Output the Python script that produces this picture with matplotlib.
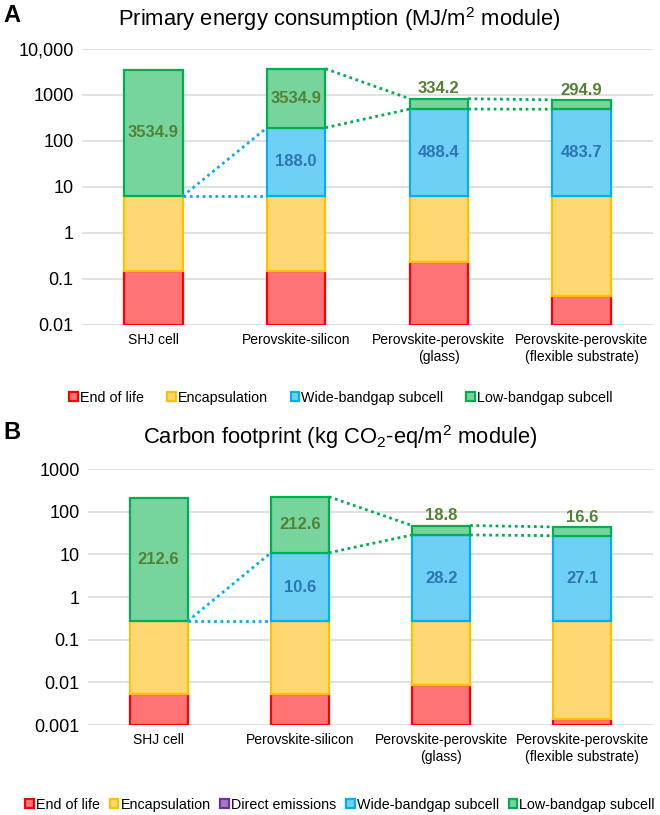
import numpy as np
import matplotlib
matplotlib.use("Agg")
import matplotlib.pyplot as plt
from matplotlib.patches import Patch

plt.rcParams['font.family'] = ['Liberation Sans', 'DejaVu Sans']
plt.rcParams['mathtext.fontset'] = 'custom'
plt.rcParams['mathtext.rm'] = 'Liberation Sans'
plt.rcParams['mathtext.it'] = 'Liberation Sans:italic'
plt.rcParams['mathtext.bf'] = 'Liberation Sans:bold'

# ---------------- data ----------------
categories = ['SHJ cell', 'Perovskite-silicon', 'Perovskite-perovskite\n(glass)',
              'Perovskite-perovskite\n(flexible substrate)']

# Panel A: primary energy consumption (MJ/m2 module)
energy_eol = [0.15, 0.15, 0.24, 0.042]
energy_encap = [6.15, 6.15, 6.06, 6.26]
energy_wide = [0.0, 188.0, 488.4, 483.7]
energy_low = [3534.9, 3534.9, 334.2, 294.9]
energy_ticks = [0.01, 0.1, 1, 10, 100, 1000, 10000]
energy_ticklabels = ['0.01', '0.1', '1', '10', '100', '1000', '10,000']

# Panel B: carbon footprint (kg CO2-eq/m2 module)
carbon_eol = [0.0054, 0.0054, 0.0085, 0.0014]
carbon_encap = [0.265, 0.265, 0.262, 0.269]
carbon_direct = [0.0, 0.0, 0.0, 0.0]
carbon_wide = [0.0, 10.6, 28.2, 27.1]
carbon_low = [212.6, 212.6, 18.8, 16.6]
carbon_ticks = [0.001, 0.01, 0.1, 1, 10, 100, 1000]
carbon_ticklabels = ['0.001', '0.01', '0.1', '1', '10', '100', '1000']

# ---------------- styles ----------------
STY = {
    'End of life': ('#FF7575', '#FF0000'),
    'Encapsulation': ('#FDD870', '#FFC000'),
    'Direct emissions': ('#A57BC8', '#7030A0'),
    'Wide-bandgap subcell': ('#6FD0F6', '#00B0F0'),
    'Low-bandgap subcell': ('#77D49C', '#00B050'),
}
GREEN_TXT = '#548235'
BLUE_TXT = '#2E75B6'
W = 0.41

fig = plt.figure(figsize=(6.6, 8.15), dpi=100)


def panel(rect, series, ticks, ticklabels, title, letter, title_y, letter_y,
          legend_names, legend_y, legend_colsp):
    ax = fig.add_axes(rect)
    ax.set_yscale('log')
    ymin, ymax = ticks[0], ticks[-1]
    ax.set_ylim(ymin, ymax)
    ax.set_xlim(-0.5, len(categories) - 0.5)
    x = np.arange(len(categories))
    cum = np.zeros(len(categories))
    tops = {}
    bots = {}
    for name, vals in series:
        vals = np.asarray(vals, dtype=float)
        face, edge = STY[name]
        bottom = np.where(cum == 0, ymin, cum)
        top = cum + vals
        for i in range(len(x)):
            if vals[i] <= 0:
                continue
            ax.bar(x[i], top[i] - bottom[i], bottom=bottom[i], width=W,
                   color=face, edgecolor=edge, linewidth=1.6, zorder=3)
        bots[name] = cum.copy()
        tops[name] = top.copy()
        cum = top
    ax.set_yticks(ticks)
    ax.set_yticklabels(ticklabels, fontsize=13)
    ax.yaxis.set_minor_locator(matplotlib.ticker.NullLocator())
    ax.set_xticks(x)
    ax.set_xticklabels(categories, fontsize=10, linespacing=1.25)
    ax.tick_params(length=0, pad=6)
    ax.grid(axis='y', color='#D9D9D9', linewidth=1.1, zorder=0)
    for s in ax.spines.values():
        s.set_visible(False)

    # value labels
    for name, col in (('Wide-bandgap subcell', BLUE_TXT), ('Low-bandgap subcell', GREEN_TXT)):
        vals = dict(series)[name]
        for i in range(len(x)):
            if vals[i] <= 0:
                continue
            b, t = bots[name][i], tops[name][i]
            if np.log10(t / b) > 0.5:
                ax.text(x[i], np.sqrt(b * t), f'{vals[i]:.1f}', ha='center', va='center',
                        fontsize=12, fontweight='bold', color=col, zorder=5)
            else:
                ax.text(x[i], t * 1.12, f'{vals[i]:.1f}', ha='center', va='bottom',
                        fontsize=12, fontweight='bold', color=col, zorder=5)

    # dotted connectors
    ls = (0, (1, 1.3))
    wb_bot = bots['Wide-bandgap subcell']
    wb_top = tops['Wide-bandgap subcell']
    lb_top = tops['Low-bandgap subcell']
    ax.plot([x[0] + W / 2, x[1] - W / 2], [wb_bot[0], wb_bot[1]], color='#00B0F0', lw=2, ls=ls, zorder=4)
    ax.plot([x[0] + W / 2, x[1] - W / 2], [wb_bot[0], wb_top[1]], color='#00B0F0', lw=2, ls=ls, zorder=4)
    for i in (1, 2):
        ax.plot([x[i] + W / 2, x[i + 1] - W / 2], [lb_top[i], lb_top[i + 1]], color='#00B050', lw=2, ls=ls, zorder=4)
        ax.plot([x[i] + W / 2, x[i + 1] - W / 2], [wb_top[i], wb_top[i + 1]], color='#00B050', lw=2, ls=ls, zorder=4)

    fig.text(0.515, title_y, title, ha='center', va='center', fontsize=15.8)
    fig.text(0.005, letter_y, letter, ha='left', va='center', fontsize=17, fontweight='bold')

    handles = [Patch(facecolor=STY[n][0], edgecolor=STY[n][1], linewidth=1.6) for n in legend_names]
    fig.legend(handles, legend_names, loc='center', bbox_to_anchor=(legend_y[0], legend_y[1]),
               ncol=len(legend_names), frameon=False, fontsize=10.3, handlelength=0.6,
               handleheight=0.6, handletextpad=0.15, columnspacing=legend_colsp,
               borderaxespad=0)
    return ax


series_a = [('End of life', energy_eol), ('Encapsulation', energy_encap),
            ('Wide-bandgap subcell', energy_wide), ('Low-bandgap subcell', energy_low)]
panel([82 / 660, 1 - 325 / 815, 571 / 660, 276 / 815], series_a, energy_ticks, energy_ticklabels,
      'Primary energy consumption (MJ/m$^2$ module)', 'A', 1 - 19 / 815, 1 - 16 / 815,
      [s[0] for s in series_a], (341 / 660, 1 - 398 / 815), 1.6)

series_b = [('End of life', carbon_eol), ('Encapsulation', carbon_encap),
            ('Direct emissions', carbon_direct),
            ('Wide-bandgap subcell', carbon_wide), ('Low-bandgap subcell', carbon_low)]
panel([88 / 660, 1 - 725 / 815, 565 / 660, 256 / 815], series_b, carbon_ticks, carbon_ticklabels,
      'Carbon footprint (kg CO$_2$-eq/m$^2$ module)', 'B', 1 - 437 / 815, 1 - 432 / 815,
      [s[0] for s in series_b], (340 / 660, 1 - 805 / 815), 0.68)

fig.savefig('out.png', dpi=100)
